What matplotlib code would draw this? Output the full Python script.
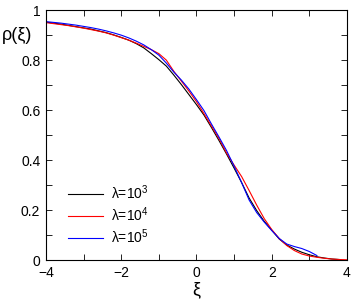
import matplotlib
matplotlib.use("Agg")
import matplotlib.pyplot as plt
from matplotlib.ticker import MultipleLocator

plt.rcParams['font.family'] = ['Liberation Sans', 'DejaVu Sans']
plt.rcParams['mathtext.default'] = 'regular'

# 数据
xi_black = [-4.0, -3.8, -3.6, -3.4, -3.2, -3.0, -2.8, -2.6, -2.4, -2.2, -2.0, -1.8, -1.6, -1.4,
            -1.2, -1.0, -0.8, -0.6, -0.4, -0.2, 0.0, 0.2, 0.4, 0.6, 0.8, 1.0, 1.2, 1.4, 1.6, 1.8,
            2.0, 2.2, 2.4, 2.6, 2.8, 3.0, 3.2, 3.4, 3.6, 3.8]
rho_black = [0.952, 0.948, 0.944, 0.939, 0.934, 0.929, 0.924, 0.917, 0.910, 0.901, 0.891, 0.880,
             0.866, 0.849, 0.826, 0.802, 0.776, 0.740, 0.702, 0.662, 0.622, 0.580, 0.530, 0.478,
             0.424, 0.368, 0.310, 0.248, 0.198, 0.155, 0.120, 0.084, 0.060, 0.044, 0.031, 0.021,
             0.013, 0.008, 0.004, 0.002]

xi_red = [-4.0, -3.8, -3.6, -3.4, -3.2, -3.0, -2.8, -2.6, -2.4, -2.2, -2.0, -1.8, -1.6, -1.4,
          -1.2, -1.0, -0.8, -0.6, -0.4, -0.2, 0.0, 0.2, 0.4, 0.6, 0.8, 1.0, 1.2, 1.4, 1.6, 1.8,
          2.0, 2.2, 2.4, 2.6, 2.8, 3.0, 3.2, 3.4, 3.6, 3.8, 4.0]
rho_red = [0.950, 0.946, 0.942, 0.938, 0.933, 0.928, 0.922, 0.916, 0.909, 0.900, 0.890, 0.880,
           0.868, 0.855, 0.842, 0.826, 0.800, 0.755, 0.716, 0.676, 0.634, 0.586, 0.536, 0.486,
           0.428, 0.380, 0.334, 0.278, 0.220, 0.166, 0.122, 0.086, 0.058, 0.038, 0.024, 0.016,
           0.011, 0.007, 0.004, 0.002, 0.001]

xi_blue = [-4.0, -3.8, -3.6, -3.4, -3.2, -3.0, -2.8, -2.6, -2.4, -2.2, -2.0, -1.8, -1.6, -1.4,
           -1.2, -1.0, -0.8, -0.6, -0.4, -0.2, 0.0, 0.2, 0.4, 0.6, 0.8, 1.0, 1.2, 1.4, 1.6, 1.8,
           2.0, 2.2, 2.4, 2.6, 2.8, 3.0, 3.2]
rho_blue = [0.954, 0.951, 0.948, 0.944, 0.940, 0.935, 0.930, 0.924, 0.917, 0.909, 0.900, 0.889,
            0.876, 0.861, 0.842, 0.820, 0.788, 0.752, 0.720, 0.684, 0.642, 0.598, 0.544, 0.492,
            0.438, 0.376, 0.310, 0.240, 0.190, 0.152, 0.118, 0.086, 0.064, 0.054, 0.046, 0.034,
            0.018]

exps = [3, 4, 5]

fig = plt.figure(figsize=(3.53, 3.07), dpi=100)
ax = fig.add_axes([0.130, 0.153, 0.853, 0.814])

ax.plot(xi_black, rho_black, color='black', lw=0.8, label=u'\u03bb=10$^{%d}$' % exps[0])
ax.plot(xi_red, rho_red, color='#ff0000', lw=0.8, label=u'\u03bb=10$^{%d}$' % exps[1])
ax.plot(xi_blue, rho_blue, color='#0000ff', lw=0.8, label=u'\u03bb=10$^{%d}$' % exps[2])

ax.set_xlim(-4, 4)
ax.set_ylim(0, 1)
ax.xaxis.set_minor_locator(MultipleLocator(1))
ax.yaxis.set_minor_locator(MultipleLocator(0.1))
ax.set_yticks([0, 0.2, 0.4, 0.6, 0.8, 1.0])
ax.set_yticklabels(['0', '0.2', '0.4', '0.6', '0.8', '1'])
ax.set_xticks([-4, -2, 0, 2, 4])
ax.set_xticklabels(['\u22124', '\u22122', '0', '2', '4'])
ax.tick_params(which='both', direction='in', top=True, right=True, length=4, width=0.6,
               labelsize=10, pad=4)
for s in ax.spines.values():
    s.set_linewidth(0.8)

fig.text(0.005, 0.885, u'\u03c1(\u03be)', fontsize=13, ha='left', va='center')
ax.set_xlabel(u'\u03be', fontsize=13, labelpad=1)

ax.legend(loc='lower left', bbox_to_anchor=(0.073, 0.055), frameon=False, fontsize=10,
          handlelength=2.5, handletextpad=0.6, labelspacing=0.25, borderpad=0, borderaxespad=0)

fig.savefig('out.png', dpi=100)
